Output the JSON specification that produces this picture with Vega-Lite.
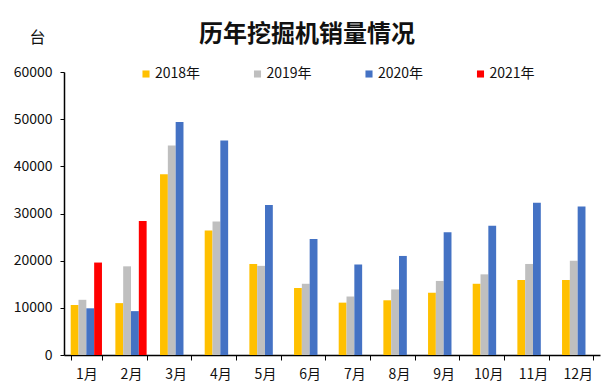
{
  "$schema": "https://vega.github.io/schema/vega-lite/v6.json",
  "width": 536,
  "height": 283,
  "autosize": "none",
  "padding": {"left": 64, "top": 72, "right": 12, "bottom": 36},
  "background": "white",
  "config": {"view": {"stroke": null}, "font": "Noto Sans CJK SC"},
  "title": {"text": "历年挖掘机销量情况", "fontSize": 24, "fontWeight": "bold", "font": "Noto Sans CJK SC", "color": "#111", "anchor": "middle", "offset": -18, "dx": -25},
  "data": {"values": [
    {"m": "1月", "y": "2018年", "v": 10600}, {"m": "1月", "y": "2019年", "v": 11700}, {"m": "1月", "y": "2020年", "v": 9900}, {"m": "1月", "y": "2021年", "v": 19600},
    {"m": "2月", "y": "2018年", "v": 11000}, {"m": "2月", "y": "2019年", "v": 18800}, {"m": "2月", "y": "2020年", "v": 9300}, {"m": "2月", "y": "2021年", "v": 28400},
    {"m": "3月", "y": "2018年", "v": 38300}, {"m": "3月", "y": "2019年", "v": 44400}, {"m": "3月", "y": "2020年", "v": 49400},
    {"m": "4月", "y": "2018年", "v": 26400}, {"m": "4月", "y": "2019年", "v": 28300}, {"m": "4月", "y": "2020年", "v": 45500},
    {"m": "5月", "y": "2018年", "v": 19300}, {"m": "5月", "y": "2019年", "v": 18900}, {"m": "5月", "y": "2020年", "v": 31800},
    {"m": "6月", "y": "2018年", "v": 14200}, {"m": "6月", "y": "2019年", "v": 15100}, {"m": "6月", "y": "2020年", "v": 24600},
    {"m": "7月", "y": "2018年", "v": 11100}, {"m": "7月", "y": "2019年", "v": 12400}, {"m": "7月", "y": "2020年", "v": 19200},
    {"m": "8月", "y": "2018年", "v": 11600}, {"m": "8月", "y": "2019年", "v": 13900}, {"m": "8月", "y": "2020年", "v": 21000},
    {"m": "9月", "y": "2018年", "v": 13200}, {"m": "9月", "y": "2019年", "v": 15700}, {"m": "9月", "y": "2020年", "v": 26000},
    {"m": "10月", "y": "2018年", "v": 15100}, {"m": "10月", "y": "2019年", "v": 17100}, {"m": "10月", "y": "2020年", "v": 27400},
    {"m": "11月", "y": "2018年", "v": 15900}, {"m": "11月", "y": "2019年", "v": 19300}, {"m": "11月", "y": "2020年", "v": 32300},
    {"m": "12月", "y": "2018年", "v": 15900}, {"m": "12月", "y": "2019年", "v": 20000}, {"m": "12月", "y": "2020年", "v": 31500}
  ]},
  "mark": {"type": "bar"},
  "encoding": {
    "x": {"field": "m", "type": "nominal", "sort": ["1月","2月","3月","4月","5月","6月","7月","8月","9月","10月","11月","12月"],
      "scale": {"paddingInner": 0.3, "paddingOuter": 0.15},
      "axis": {"title": null, "labelAngle": 0, "labelFontSize": 14, "labelColor": "#111", "domainColor": "#000", "domainWidth": 1.5, "tickColor": "#000", "tickSize": 5, "tickBand": "extent", "labelPadding": 7}},
    "xOffset": {"field": "y", "type": "nominal", "scale": {"domain": ["2018年","2019年","2020年","2021年"], "paddingInner": 0, "paddingOuter": 0}},
    "y": {"field": "v", "type": "quantitative", "scale": {"domain": [0, 60000]},
      "axis": {"title": "台", "titleAngle": 0, "titleX": -27, "titleY": -27, "titleFontSize": 16, "titleFontWeight": "normal", "titleColor": "#111", "values": [0,10000,20000,30000,40000,50000,60000], "format": "d", "grid": false, "labelFontSize": 14, "labelColor": "#111", "domainColor": "#000", "domainWidth": 1.5, "tickColor": "#000", "tickSize": 4, "labelPadding": 8}},
    "color": {"field": "y", "type": "nominal",
      "scale": {"domain": ["2018年","2019年","2020年","2021年"], "range": ["#FFC000","#BFBFBF","#4472C4","#FF0000"]},
      "legend": {"title": null, "orient": "none", "legendX": 75, "legendY": -5, "direction": "horizontal", "columns": 4, "symbolType": "square", "symbolSize": 50, "labelFontSize": 14, "labelColor": "#111", "columnPadding": 49.5, "symbolOffset": 0, "labelOffset": 2}}
  }
}
